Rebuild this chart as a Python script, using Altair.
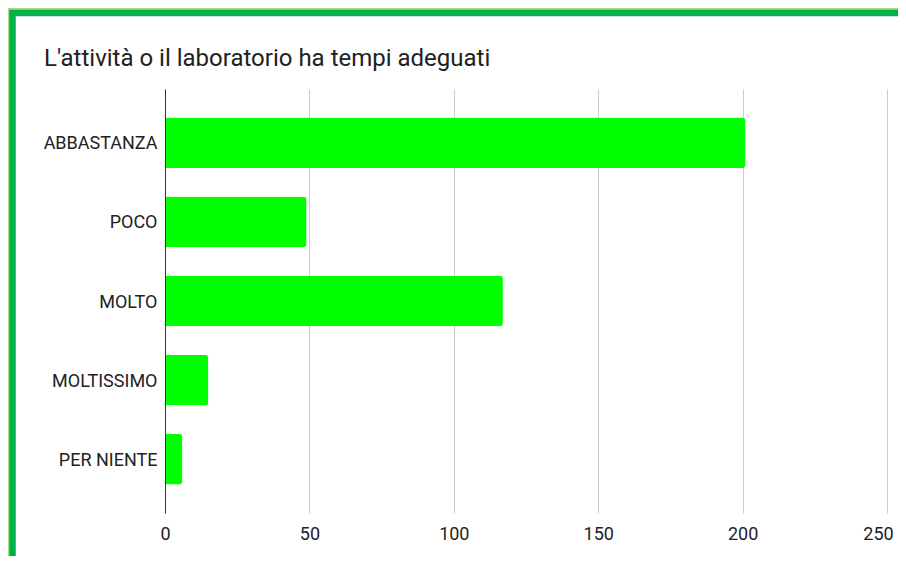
import altair as alt
import pandas as pd

categories = ["ABBASTANZA", "POCO", "MOLTO", "MOLTISSIMO", "PER NIENTE"]
counts = [201, 49, 117, 15, 6]
x_ticks = [0, 50, 100, 150, 200, 250]
title_text = "L'attività o il laboratorio ha tempi adeguati"

df = pd.DataFrame({"risposta": categories, "conteggio": counts})
frame_df = pd.DataFrame({"k": [0]})
title_df = pd.DataFrame({"t": [title_text]})

W, H = 722, 424
PAD = {"left": 157, "top": 81, "right": 11, "bottom": 43}

light_frame = alt.Chart(frame_df).mark_rect(
    fillOpacity=0, stroke="#b0db7c", strokeWidth=4
).encode(
    x=alt.value(-PAD["left"]), x2=alt.value(W + 200),
    y=alt.value(-PAD["top"]), y2=alt.value(H + 200),
)
dark_frame = alt.Chart(frame_df).mark_rect(
    fillOpacity=0, stroke="#00b04f", strokeWidth=6.5
).encode(
    x=alt.value(-PAD["left"] + 4.5), x2=alt.value(W + 200),
    y=alt.value(-PAD["top"] + 5), y2=alt.value(H + 200),
)

title_mark = alt.Chart(title_df).mark_text(
    align="left", baseline="alphabetic", font="Roboto", fontSize=24,
    color="#212121",
).encode(
    text="t:N",
    x=alt.value(36 - PAD["left"]),
    y=alt.value(-23),
)

bars = alt.Chart(df).mark_bar(color="#00ff00", cornerRadiusEnd=3).encode(
    y=alt.Y(
        "risposta:N", sort=categories, title=None,
        scale=alt.Scale(paddingInner=0.36, paddingOuter=0.36),
        axis=alt.Axis(
            ticks=False, tickSize=0, domainColor="#333333", domainWidth=1,
            labelPadding=8, labelFontSize=18, labelColor="#222222",
            labelFont="Roboto", zindex=1, labelOffset=1.5,
        ),
    ),
    x=alt.X(
        "conteggio:Q", title=None,
        scale=alt.Scale(domain=[0, 250], nice=False),
        axis=alt.Axis(
            values=x_ticks, ticks=False, tickSize=0, domain=False,
            gridColor="#cccccc", gridWidth=1, labelPadding=12,
            labelFontSize=18, labelColor="#222222", labelFont="Roboto",
            labelFlush=False,
            labelOffset={"condition": {"test": "datum.value === 250", "value": -9}, "value": 0},
        ),
    ),
)

chart = alt.layer(light_frame, dark_frame, title_mark, bars).properties(
    width=W, height=H,
    padding=PAD,
    autosize=alt.AutoSizeParams(type="none"),
    background="white",
).configure_view(stroke=None)

chart.save("out.html", embed_options={"renderer": "svg", "actions": False})
